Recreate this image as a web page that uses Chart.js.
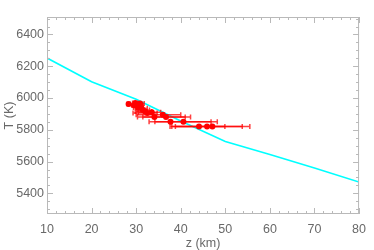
<!DOCTYPE html>
<html>
<head>
<meta charset="utf-8">
<script src="https://cdn.jsdelivr.net/npm/chart.js@4"></script>
<style>
  html, body { margin: 0; padding: 0; background: #fff; }
  #wrap { width: 374px; height: 250px; }
</style>
</head>
<body>
<div id="wrap"><canvas id="chartTemp"></canvas></div>
<script>
// model curve
const modelZ = [10, 20, 30, 40, 50, 60, 70, 80];
const modelT = [6252, 6102, 5992, 5855, 5727, 5644, 5560, 5471];

// measured points with horizontal error range
const obsZ  = [28.3, 29.5, 29.8, 30.2, 30.6, 30.9, 30.4, 31.2, 31.5, 32.0, 32.5, 33.5, 36.0, 34.1, 36.7, 37.7, 40.6, 44.1, 45.9, 47.1];
const obsT  = [5962, 5955, 5968, 5960, 5950, 5965, 5940, 5935, 5925, 5915, 5905, 5910, 5895, 5880, 5880, 5850, 5850, 5820, 5820, 5820];
const obsLo = [28.0, 29.0, 29.2, 29.5, 29.6, 30.0, 29.4, 30.0, 30.2, 29.8, 29.3, 30.5, 30.0, 30.3, 31.5, 32.9, 34.2, 37.6, 38.0, 38.8];
const obsHi = [28.6, 30.0, 30.4, 31.0, 31.6, 31.8, 31.5, 32.5, 33.0, 33.5, 34.7, 35.5, 40.0, 42.2, 41.0, 46.8, 48.2, 53.8, 55.5, 49.9];

const xTicks = [10, 20, 30, 40, 50, 60, 70, 80];
const yTicks = [5400, 5600, 5800, 6000, 6200, 6400];

const GREY = 'rgb(105,105,105)';
const FRAME = 'rgb(185,185,185)';

const errorBars = {
    id: 'errorBars',
    beforeDatasetDraw(chart, args) {
        if (args.index !== 0) return;
        const { ctx, scales: { x, y } } = chart;
        ctx.save();
        ctx.strokeStyle = 'rgba(255,0,0,0.75)';
        ctx.lineWidth = 1.5;
        obsZ.forEach((z, i) => {
            const py = y.getPixelForValue(obsT[i]);
            const x0 = x.getPixelForValue(obsLo[i]);
            const x1 = x.getPixelForValue(obsHi[i]);
            ctx.beginPath();
            ctx.moveTo(x0, py); ctx.lineTo(x1, py);
            ctx.moveTo(x0, py - 2.5); ctx.lineTo(x0, py + 2.5);
            ctx.moveTo(x1, py - 2.5); ctx.lineTo(x1, py + 2.5);
            ctx.stroke();
        });
        ctx.restore();
    }
};

const frameTicks = {
    id: 'frameTicks',
    afterDraw(chart) {
        const { ctx, chartArea: a, scales: { x, y } } = chart;
        ctx.save();
        ctx.strokeStyle = FRAME;
        ctx.lineWidth = 1;
        ctx.strokeRect(a.left + 0.5, a.top + 0.5, a.right - a.left - 1, a.bottom - a.top - 1);
        ctx.beginPath();
        for (let v = 10; v <= 80; v += 2) {
            const px = Math.round(x.getPixelForValue(v)) + 0.5;
            const len = v % 10 === 0 ? 6 : 3;
            ctx.moveTo(px, a.bottom); ctx.lineTo(px, a.bottom - len);
            ctx.moveTo(px, a.top); ctx.lineTo(px, a.top + len);
        }
        for (let v = 5300; v <= 6500; v += 50) {
            const py = Math.round(y.getPixelForValue(v)) + 0.5;
            const len = v % 200 === 0 ? 6 : 3;
            ctx.moveTo(a.left, py); ctx.lineTo(a.left + len, py);
            ctx.moveTo(a.right, py); ctx.lineTo(a.right - len, py);
        }
        ctx.stroke();
        ctx.restore();
    }
};

const font = { family: 'Liberation Sans', size: 12.5 };

new Chart(document.querySelector('#chartTemp'), {
    type: 'scatter',
    data: {
        datasets: [{
            label: 'obs',
            data: obsZ.map((z, i) => ({ x: z, y: obsT[i] })),
            backgroundColor: 'rgb(255,0,0)',
            borderWidth: 0,
            pointRadius: 3,
            order: 0
        }, {
            label: 'model',
            type: 'line',
            data: modelZ.map((z, i) => ({ x: z, y: modelT[i] })),
            borderColor: 'rgb(0,255,255)',
            borderWidth: 1.6,
            pointRadius: 0,
            tension: 0,
            fill: false,
            order: 1
        }]
    },
    plugins: [errorBars, frameTicks],
    options: {
        responsive: true,
        maintainAspectRatio: false,
        animation: false,
        layout: { padding: { top: 17, right: 7, left: 0, bottom: 0 } },
        plugins: { legend: { display: false }, tooltip: { enabled: false } },
        scales: {
            x: {
                min: 10, max: 80,
                grid: { display: false, drawTicks: false },
                border: { display: false },
                afterBuildTicks: s => { s.ticks = xTicks.map(v => ({ value: v })); },
                afterFit: s => { s.height = 36; },
                ticks: { color: GREY, padding: 8, font: font, callback: v => String(v) },
                title: { display: true, text: 'z (km)', color: GREY, padding: { top: 0, bottom: -1 }, font: font }
            },
            y: {
                min: 5270, max: 6510,
                grid: { display: false, drawTicks: false },
                border: { display: false },
                afterBuildTicks: s => { s.ticks = yTicks.map(v => ({ value: v })); },
                afterFit: s => { s.width = 47; },
                ticks: { color: GREY, padding: 3, font: font, callback: v => String(v) },
                title: { display: true, text: 'T (K)', color: GREY, padding: 2, font: font }
            }
        }
    }
});
</script>
</body>
</html>
